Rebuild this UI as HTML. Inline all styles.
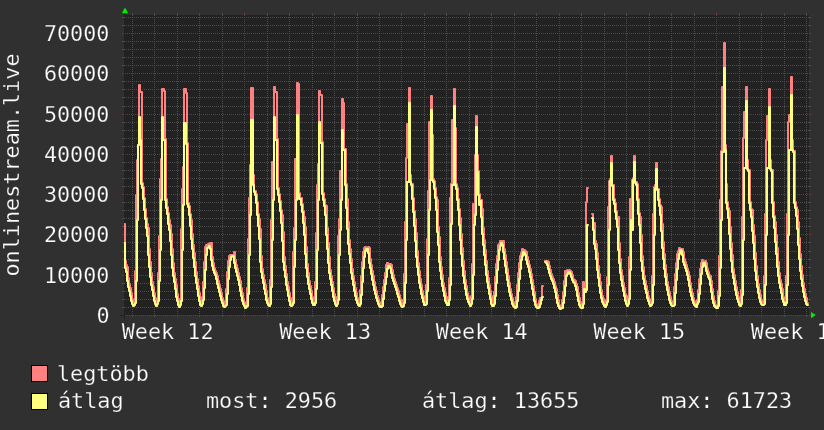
<!DOCTYPE html>
<html><head><meta charset="utf-8"><style>
html,body{margin:0;padding:0;background:#303030;}
svg{display:block}
.t{font-family:"DejaVu Sans Mono","Liberation Mono",monospace;font-size:21.8px;fill:#ffffff;stroke:#303030;stroke-width:0.25px;}
</style></head><body>
<svg width="824" height="430" viewBox="0 0 824 430" shape-rendering="crispEdges">
<rect x="0" y="0" width="824" height="430" fill="#303030"/><rect x="124" y="15" width="685" height="300" fill="#222222"/><line x1="132.5" y1="15" x2="132.5" y2="315" stroke="#4d4d4d" stroke-width="1" stroke-dasharray="1 1"/><rect x="132" y="13" width="1" height="2" fill="#4d4d4d"/><rect x="132" y="315" width="1" height="2" fill="#4d4d4d"/><line x1="154.5" y1="15" x2="154.5" y2="315" stroke="#4d4d4d" stroke-width="1" stroke-dasharray="1 1"/><rect x="154" y="13" width="1" height="2" fill="#4d4d4d"/><rect x="154" y="315" width="1" height="2" fill="#4d4d4d"/><line x1="177.5" y1="15" x2="177.5" y2="315" stroke="#4d4d4d" stroke-width="1" stroke-dasharray="1 1"/><rect x="177" y="13" width="1" height="2" fill="#4d4d4d"/><rect x="177" y="315" width="1" height="2" fill="#4d4d4d"/><line x1="199.5" y1="15" x2="199.5" y2="315" stroke="#4d4d4d" stroke-width="1" stroke-dasharray="1 1"/><rect x="199" y="13" width="1" height="2" fill="#4d4d4d"/><rect x="199" y="315" width="1" height="2" fill="#4d4d4d"/><line x1="222.5" y1="15" x2="222.5" y2="315" stroke="#4d4d4d" stroke-width="1" stroke-dasharray="1 1"/><rect x="222" y="13" width="1" height="2" fill="#4d4d4d"/><rect x="222" y="315" width="1" height="2" fill="#4d4d4d"/><line x1="267.5" y1="15" x2="267.5" y2="315" stroke="#4d4d4d" stroke-width="1" stroke-dasharray="1 1"/><rect x="267" y="13" width="1" height="2" fill="#4d4d4d"/><rect x="267" y="315" width="1" height="2" fill="#4d4d4d"/><line x1="289.5" y1="15" x2="289.5" y2="315" stroke="#4d4d4d" stroke-width="1" stroke-dasharray="1 1"/><rect x="289" y="13" width="1" height="2" fill="#4d4d4d"/><rect x="289" y="315" width="1" height="2" fill="#4d4d4d"/><line x1="312.5" y1="15" x2="312.5" y2="315" stroke="#4d4d4d" stroke-width="1" stroke-dasharray="1 1"/><rect x="312" y="13" width="1" height="2" fill="#4d4d4d"/><rect x="312" y="315" width="1" height="2" fill="#4d4d4d"/><line x1="334.5" y1="15" x2="334.5" y2="315" stroke="#4d4d4d" stroke-width="1" stroke-dasharray="1 1"/><rect x="334" y="13" width="1" height="2" fill="#4d4d4d"/><rect x="334" y="315" width="1" height="2" fill="#4d4d4d"/><line x1="357.5" y1="15" x2="357.5" y2="315" stroke="#4d4d4d" stroke-width="1" stroke-dasharray="1 1"/><rect x="357" y="13" width="1" height="2" fill="#4d4d4d"/><rect x="357" y="315" width="1" height="2" fill="#4d4d4d"/><line x1="379.5" y1="15" x2="379.5" y2="315" stroke="#4d4d4d" stroke-width="1" stroke-dasharray="1 1"/><rect x="379" y="13" width="1" height="2" fill="#4d4d4d"/><rect x="379" y="315" width="1" height="2" fill="#4d4d4d"/><line x1="424.5" y1="15" x2="424.5" y2="315" stroke="#4d4d4d" stroke-width="1" stroke-dasharray="1 1"/><rect x="424" y="13" width="1" height="2" fill="#4d4d4d"/><rect x="424" y="315" width="1" height="2" fill="#4d4d4d"/><line x1="446.5" y1="15" x2="446.5" y2="315" stroke="#4d4d4d" stroke-width="1" stroke-dasharray="1 1"/><rect x="446" y="13" width="1" height="2" fill="#4d4d4d"/><rect x="446" y="315" width="1" height="2" fill="#4d4d4d"/><line x1="469.5" y1="15" x2="469.5" y2="315" stroke="#4d4d4d" stroke-width="1" stroke-dasharray="1 1"/><rect x="469" y="13" width="1" height="2" fill="#4d4d4d"/><rect x="469" y="315" width="1" height="2" fill="#4d4d4d"/><line x1="491.5" y1="15" x2="491.5" y2="315" stroke="#4d4d4d" stroke-width="1" stroke-dasharray="1 1"/><rect x="491" y="13" width="1" height="2" fill="#4d4d4d"/><rect x="491" y="315" width="1" height="2" fill="#4d4d4d"/><line x1="514.5" y1="15" x2="514.5" y2="315" stroke="#4d4d4d" stroke-width="1" stroke-dasharray="1 1"/><rect x="514" y="13" width="1" height="2" fill="#4d4d4d"/><rect x="514" y="315" width="1" height="2" fill="#4d4d4d"/><line x1="536.5" y1="15" x2="536.5" y2="315" stroke="#4d4d4d" stroke-width="1" stroke-dasharray="1 1"/><rect x="536" y="13" width="1" height="2" fill="#4d4d4d"/><rect x="536" y="315" width="1" height="2" fill="#4d4d4d"/><line x1="581.5" y1="15" x2="581.5" y2="315" stroke="#4d4d4d" stroke-width="1" stroke-dasharray="1 1"/><rect x="581" y="13" width="1" height="2" fill="#4d4d4d"/><rect x="581" y="315" width="1" height="2" fill="#4d4d4d"/><line x1="604.5" y1="15" x2="604.5" y2="315" stroke="#4d4d4d" stroke-width="1" stroke-dasharray="1 1"/><rect x="604" y="13" width="1" height="2" fill="#4d4d4d"/><rect x="604" y="315" width="1" height="2" fill="#4d4d4d"/><line x1="626.5" y1="15" x2="626.5" y2="315" stroke="#4d4d4d" stroke-width="1" stroke-dasharray="1 1"/><rect x="626" y="13" width="1" height="2" fill="#4d4d4d"/><rect x="626" y="315" width="1" height="2" fill="#4d4d4d"/><line x1="649.5" y1="15" x2="649.5" y2="315" stroke="#4d4d4d" stroke-width="1" stroke-dasharray="1 1"/><rect x="649" y="13" width="1" height="2" fill="#4d4d4d"/><rect x="649" y="315" width="1" height="2" fill="#4d4d4d"/><line x1="671.5" y1="15" x2="671.5" y2="315" stroke="#4d4d4d" stroke-width="1" stroke-dasharray="1 1"/><rect x="671" y="13" width="1" height="2" fill="#4d4d4d"/><rect x="671" y="315" width="1" height="2" fill="#4d4d4d"/><line x1="694.5" y1="15" x2="694.5" y2="315" stroke="#4d4d4d" stroke-width="1" stroke-dasharray="1 1"/><rect x="694" y="13" width="1" height="2" fill="#4d4d4d"/><rect x="694" y="315" width="1" height="2" fill="#4d4d4d"/><line x1="739.5" y1="15" x2="739.5" y2="315" stroke="#4d4d4d" stroke-width="1" stroke-dasharray="1 1"/><rect x="739" y="13" width="1" height="2" fill="#4d4d4d"/><rect x="739" y="315" width="1" height="2" fill="#4d4d4d"/><line x1="761.5" y1="15" x2="761.5" y2="315" stroke="#4d4d4d" stroke-width="1" stroke-dasharray="1 1"/><rect x="761" y="13" width="1" height="2" fill="#4d4d4d"/><rect x="761" y="315" width="1" height="2" fill="#4d4d4d"/><line x1="784.5" y1="15" x2="784.5" y2="315" stroke="#4d4d4d" stroke-width="1" stroke-dasharray="1 1"/><rect x="784" y="13" width="1" height="2" fill="#4d4d4d"/><rect x="784" y="315" width="1" height="2" fill="#4d4d4d"/><line x1="806.5" y1="15" x2="806.5" y2="315" stroke="#4d4d4d" stroke-width="1" stroke-dasharray="1 1"/><rect x="806" y="13" width="1" height="2" fill="#4d4d4d"/><rect x="806" y="315" width="1" height="2" fill="#4d4d4d"/><line x1="124" y1="307.5" x2="809" y2="307.5" stroke="#4d4d4d" stroke-width="1" stroke-dasharray="1 1" stroke-dashoffset="0"/><rect x="122" y="307" width="2" height="1" fill="#4d4d4d"/><rect x="809" y="307" width="2" height="1" fill="#4d4d4d"/><line x1="124" y1="299.5" x2="809" y2="299.5" stroke="#4d4d4d" stroke-width="1" stroke-dasharray="1 1" stroke-dashoffset="0"/><rect x="122" y="299" width="2" height="1" fill="#4d4d4d"/><rect x="809" y="299" width="2" height="1" fill="#4d4d4d"/><line x1="124" y1="291.5" x2="809" y2="291.5" stroke="#4d4d4d" stroke-width="1" stroke-dasharray="1 1" stroke-dashoffset="0"/><rect x="122" y="291" width="2" height="1" fill="#4d4d4d"/><rect x="809" y="291" width="2" height="1" fill="#4d4d4d"/><line x1="124" y1="283.5" x2="809" y2="283.5" stroke="#4d4d4d" stroke-width="1" stroke-dasharray="1 1" stroke-dashoffset="0"/><rect x="122" y="283" width="2" height="1" fill="#4d4d4d"/><rect x="809" y="283" width="2" height="1" fill="#4d4d4d"/><line x1="124" y1="267.5" x2="809" y2="267.5" stroke="#4d4d4d" stroke-width="1" stroke-dasharray="1 1" stroke-dashoffset="0"/><rect x="122" y="267" width="2" height="1" fill="#4d4d4d"/><rect x="809" y="267" width="2" height="1" fill="#4d4d4d"/><line x1="124" y1="259.5" x2="809" y2="259.5" stroke="#4d4d4d" stroke-width="1" stroke-dasharray="1 1" stroke-dashoffset="0"/><rect x="122" y="259" width="2" height="1" fill="#4d4d4d"/><rect x="809" y="259" width="2" height="1" fill="#4d4d4d"/><line x1="124" y1="251.5" x2="809" y2="251.5" stroke="#4d4d4d" stroke-width="1" stroke-dasharray="1 1" stroke-dashoffset="0"/><rect x="122" y="251" width="2" height="1" fill="#4d4d4d"/><rect x="809" y="251" width="2" height="1" fill="#4d4d4d"/><line x1="124" y1="242.5" x2="809" y2="242.5" stroke="#4d4d4d" stroke-width="1" stroke-dasharray="1 1" stroke-dashoffset="0"/><rect x="122" y="242" width="2" height="1" fill="#4d4d4d"/><rect x="809" y="242" width="2" height="1" fill="#4d4d4d"/><line x1="124" y1="226.5" x2="809" y2="226.5" stroke="#4d4d4d" stroke-width="1" stroke-dasharray="1 1" stroke-dashoffset="0"/><rect x="122" y="226" width="2" height="1" fill="#4d4d4d"/><rect x="809" y="226" width="2" height="1" fill="#4d4d4d"/><line x1="124" y1="218.5" x2="809" y2="218.5" stroke="#4d4d4d" stroke-width="1" stroke-dasharray="1 1" stroke-dashoffset="0"/><rect x="122" y="218" width="2" height="1" fill="#4d4d4d"/><rect x="809" y="218" width="2" height="1" fill="#4d4d4d"/><line x1="124" y1="210.5" x2="809" y2="210.5" stroke="#4d4d4d" stroke-width="1" stroke-dasharray="1 1" stroke-dashoffset="0"/><rect x="122" y="210" width="2" height="1" fill="#4d4d4d"/><rect x="809" y="210" width="2" height="1" fill="#4d4d4d"/><line x1="124" y1="202.5" x2="809" y2="202.5" stroke="#4d4d4d" stroke-width="1" stroke-dasharray="1 1" stroke-dashoffset="0"/><rect x="122" y="202" width="2" height="1" fill="#4d4d4d"/><rect x="809" y="202" width="2" height="1" fill="#4d4d4d"/><line x1="124" y1="186.5" x2="809" y2="186.5" stroke="#4d4d4d" stroke-width="1" stroke-dasharray="1 1" stroke-dashoffset="0"/><rect x="122" y="186" width="2" height="1" fill="#4d4d4d"/><rect x="809" y="186" width="2" height="1" fill="#4d4d4d"/><line x1="124" y1="178.5" x2="809" y2="178.5" stroke="#4d4d4d" stroke-width="1" stroke-dasharray="1 1" stroke-dashoffset="0"/><rect x="122" y="178" width="2" height="1" fill="#4d4d4d"/><rect x="809" y="178" width="2" height="1" fill="#4d4d4d"/><line x1="124" y1="170.5" x2="809" y2="170.5" stroke="#4d4d4d" stroke-width="1" stroke-dasharray="1 1" stroke-dashoffset="0"/><rect x="122" y="170" width="2" height="1" fill="#4d4d4d"/><rect x="809" y="170" width="2" height="1" fill="#4d4d4d"/><line x1="124" y1="162.5" x2="809" y2="162.5" stroke="#4d4d4d" stroke-width="1" stroke-dasharray="1 1" stroke-dashoffset="0"/><rect x="122" y="162" width="2" height="1" fill="#4d4d4d"/><rect x="809" y="162" width="2" height="1" fill="#4d4d4d"/><line x1="124" y1="146.5" x2="809" y2="146.5" stroke="#4d4d4d" stroke-width="1" stroke-dasharray="1 1" stroke-dashoffset="0"/><rect x="122" y="146" width="2" height="1" fill="#4d4d4d"/><rect x="809" y="146" width="2" height="1" fill="#4d4d4d"/><line x1="124" y1="138.5" x2="809" y2="138.5" stroke="#4d4d4d" stroke-width="1" stroke-dasharray="1 1" stroke-dashoffset="0"/><rect x="122" y="138" width="2" height="1" fill="#4d4d4d"/><rect x="809" y="138" width="2" height="1" fill="#4d4d4d"/><line x1="124" y1="130.5" x2="809" y2="130.5" stroke="#4d4d4d" stroke-width="1" stroke-dasharray="1 1" stroke-dashoffset="0"/><rect x="122" y="130" width="2" height="1" fill="#4d4d4d"/><rect x="809" y="130" width="2" height="1" fill="#4d4d4d"/><line x1="124" y1="122.5" x2="809" y2="122.5" stroke="#4d4d4d" stroke-width="1" stroke-dasharray="1 1" stroke-dashoffset="0"/><rect x="122" y="122" width="2" height="1" fill="#4d4d4d"/><rect x="809" y="122" width="2" height="1" fill="#4d4d4d"/><line x1="124" y1="106.5" x2="809" y2="106.5" stroke="#4d4d4d" stroke-width="1" stroke-dasharray="1 1" stroke-dashoffset="0"/><rect x="122" y="106" width="2" height="1" fill="#4d4d4d"/><rect x="809" y="106" width="2" height="1" fill="#4d4d4d"/><line x1="124" y1="97.5" x2="809" y2="97.5" stroke="#4d4d4d" stroke-width="1" stroke-dasharray="1 1" stroke-dashoffset="0"/><rect x="122" y="97" width="2" height="1" fill="#4d4d4d"/><rect x="809" y="97" width="2" height="1" fill="#4d4d4d"/><line x1="124" y1="89.5" x2="809" y2="89.5" stroke="#4d4d4d" stroke-width="1" stroke-dasharray="1 1" stroke-dashoffset="0"/><rect x="122" y="89" width="2" height="1" fill="#4d4d4d"/><rect x="809" y="89" width="2" height="1" fill="#4d4d4d"/><line x1="124" y1="81.5" x2="809" y2="81.5" stroke="#4d4d4d" stroke-width="1" stroke-dasharray="1 1" stroke-dashoffset="0"/><rect x="122" y="81" width="2" height="1" fill="#4d4d4d"/><rect x="809" y="81" width="2" height="1" fill="#4d4d4d"/><line x1="124" y1="65.5" x2="809" y2="65.5" stroke="#4d4d4d" stroke-width="1" stroke-dasharray="1 1" stroke-dashoffset="0"/><rect x="122" y="65" width="2" height="1" fill="#4d4d4d"/><rect x="809" y="65" width="2" height="1" fill="#4d4d4d"/><line x1="124" y1="57.5" x2="809" y2="57.5" stroke="#4d4d4d" stroke-width="1" stroke-dasharray="1 1" stroke-dashoffset="0"/><rect x="122" y="57" width="2" height="1" fill="#4d4d4d"/><rect x="809" y="57" width="2" height="1" fill="#4d4d4d"/><line x1="124" y1="49.5" x2="809" y2="49.5" stroke="#4d4d4d" stroke-width="1" stroke-dasharray="1 1" stroke-dashoffset="0"/><rect x="122" y="49" width="2" height="1" fill="#4d4d4d"/><rect x="809" y="49" width="2" height="1" fill="#4d4d4d"/><line x1="124" y1="41.5" x2="809" y2="41.5" stroke="#4d4d4d" stroke-width="1" stroke-dasharray="1 1" stroke-dashoffset="0"/><rect x="122" y="41" width="2" height="1" fill="#4d4d4d"/><rect x="809" y="41" width="2" height="1" fill="#4d4d4d"/><line x1="124" y1="25.5" x2="809" y2="25.5" stroke="#4d4d4d" stroke-width="1" stroke-dasharray="1 1" stroke-dashoffset="0"/><rect x="122" y="25" width="2" height="1" fill="#4d4d4d"/><rect x="809" y="25" width="2" height="1" fill="#4d4d4d"/><line x1="124" y1="17.5" x2="809" y2="17.5" stroke="#4d4d4d" stroke-width="1" stroke-dasharray="1 1" stroke-dashoffset="0"/><rect x="122" y="17" width="2" height="1" fill="#4d4d4d"/><rect x="809" y="17" width="2" height="1" fill="#4d4d4d"/><line x1="244.5" y1="15" x2="244.5" y2="315" stroke="#733434" stroke-width="1" stroke-dasharray="1 1"/><rect x="244" y="13" width="1" height="2" fill="#733434"/><rect x="244" y="315" width="1" height="2" fill="#733434"/><line x1="401.5" y1="15" x2="401.5" y2="315" stroke="#733434" stroke-width="1" stroke-dasharray="1 1"/><rect x="401" y="13" width="1" height="2" fill="#733434"/><rect x="401" y="315" width="1" height="2" fill="#733434"/><line x1="559.5" y1="15" x2="559.5" y2="315" stroke="#733434" stroke-width="1" stroke-dasharray="1 1"/><rect x="559" y="13" width="1" height="2" fill="#733434"/><rect x="559" y="315" width="1" height="2" fill="#733434"/><line x1="716.5" y1="15" x2="716.5" y2="315" stroke="#733434" stroke-width="1" stroke-dasharray="1 1"/><rect x="716" y="13" width="1" height="2" fill="#733434"/><rect x="716" y="315" width="1" height="2" fill="#733434"/><line x1="124" y1="315.5" x2="809" y2="315.5" stroke="#733434" stroke-width="1" stroke-dasharray="1 1" stroke-dashoffset="1"/><rect x="122" y="315" width="2" height="1" fill="#733434"/><rect x="809" y="315" width="2" height="1" fill="#733434"/><line x1="124" y1="275.5" x2="809" y2="275.5" stroke="#733434" stroke-width="1" stroke-dasharray="1 1" stroke-dashoffset="1"/><rect x="122" y="275" width="2" height="1" fill="#733434"/><rect x="809" y="275" width="2" height="1" fill="#733434"/><line x1="124" y1="234.5" x2="809" y2="234.5" stroke="#733434" stroke-width="1" stroke-dasharray="1 1" stroke-dashoffset="1"/><rect x="122" y="234" width="2" height="1" fill="#733434"/><rect x="809" y="234" width="2" height="1" fill="#733434"/><line x1="124" y1="194.5" x2="809" y2="194.5" stroke="#733434" stroke-width="1" stroke-dasharray="1 1" stroke-dashoffset="1"/><rect x="122" y="194" width="2" height="1" fill="#733434"/><rect x="809" y="194" width="2" height="1" fill="#733434"/><line x1="124" y1="154.5" x2="809" y2="154.5" stroke="#733434" stroke-width="1" stroke-dasharray="1 1" stroke-dashoffset="1"/><rect x="122" y="154" width="2" height="1" fill="#733434"/><rect x="809" y="154" width="2" height="1" fill="#733434"/><line x1="124" y1="114.5" x2="809" y2="114.5" stroke="#733434" stroke-width="1" stroke-dasharray="1 1" stroke-dashoffset="1"/><rect x="122" y="114" width="2" height="1" fill="#733434"/><rect x="809" y="114" width="2" height="1" fill="#733434"/><line x1="124" y1="73.5" x2="809" y2="73.5" stroke="#733434" stroke-width="1" stroke-dasharray="1 1" stroke-dashoffset="1"/><rect x="122" y="73" width="2" height="1" fill="#733434"/><rect x="809" y="73" width="2" height="1" fill="#733434"/><line x1="124" y1="33.5" x2="809" y2="33.5" stroke="#733434" stroke-width="1" stroke-dasharray="1 1" stroke-dashoffset="1"/><rect x="122" y="33" width="2" height="1" fill="#733434"/><rect x="809" y="33" width="2" height="1" fill="#733434"/><defs><clipPath id="plotclip"><rect x="124" y="14" width="685" height="302"/></clipPath></defs><g clip-path="url(#plotclip)"><path d="M124,224H125V261H126V265H127V267H128V278H129V284H130V288H131V293H132V299H133V302H134H135V271H136V195H137V160H138V145H139V85H140V92H141H142V183H143V187H144V198H145V209H146V218H147V224H148V228H149V249H150V262H151V273H152V282H153V287H154V293H155V298H156V302H157V299H158V273H159V236H160V179H161V159H162V89H163H164V91H165V139H166V199H167V207H168V213H169V220H170V225H171V234H172V249H173V263H174V273H175V279H176V285H177V294H178V299H179V303H180V299H181V229H182V189H183V167H184V89H185H186V93H187V143H188V203H189V206H190V214H191V220H192V234H193V245H194V253H195V262H196V272H197V279H198V286H199V293H200V298H201V302H202V297H203V282H204V262H205V247H206V245H207H208V244H209V245H210V243H211H212V257H213V263H214V268H215V271H216V273H217V276H218V281H219V285H220V289H221V293H222V298H223V301H224V304H225V303H226V289H227V272H228V261H229V256H230V255H231H232H233H234V252H235V260H236V265H237V269H238V273H239V277H240V281H241V288H242V293H243V299H244V302H245V305H246H247V288H248V239H249V198H250V165H251V88H252H253V175H254V191H255H256V194H257V202H258V214H259V219H260V229H261V256H262V269H263V275H264V280H265V285H266V291H267V298H268V302H269H270V280H271V220H272V162H273H274V87H275V92H276H277V139H278V188H279V194H280V201H281V210H282V215H283V232H284V257H285V266H286V274H287V282H288V287H289V293H290V298H291V303H292V302H293V252H294V228H295V159H296H297V83H298V84H299V193H300V198H301H302V204H303V211H304V217H305V227H306V247H307V264H308V273H309V281H310V286H311V291H312V297H313V301H314V302H315V282H316V233H317V185H318V164H319V91H320V95H321H322V142H323V193H324V199H325V205H326V206H327V228H328V243H329V257H330V270H331V276H332V282H333V288H334V294H335V299H336V302H337V297H338V236H339V219H340V171H341H342V99H343V103H344V149H345H346V184H347V199H348V222H349V240H350V249H351V259H352V269H353V276H354V282H355V288H356V293H357V298H358V301H359V302H360V290H361V276H362V262H363V252H364V248H365V247H366V248H367H368V247H369V248H370V259H371V265H372V271H373V276H374V282H375V287H376V291H377V296H378V299H379V302H380V305H381H382V295H383V287H384V280H385V273H386V265H387V263H388V265H389V264H390H391V265H392V270H393V275H394V279H395V282H396V285H397V288H398V291H399V295H400V299H401V302H402V304H403V300H404V274H405V222H406V158H407V124H408H409V88H410V175H411V184H412H413V198H414V211H415V219H416V233H417V251H418V263H419V271H420V279H421V285H422V291H423V296H424V301H425V302H426V285H427V239H428V191H429V122H430H431V96H432V135H433V179H434V181H435V188H436V197H437V200H438V227H439V237H440V257H441V267H442V275H443V283H444V288H445V293H446V298H447V302H448V297H449V278H450V198H451V184H452V120H453H454V89H455V128H456V184H457V188H458V199H459V209H460V218H461V234H462V248H463V261H464V271H465V280H466V286H467V293H468V297H469V301H470V302H471V296H472V264H473V204H474V214H475V155H476V116H477V155H478V171H479V194H480V200H481H482V209H483V228H484V240H485V250H486V261H487V271H488V278H489V285H490V291H491V296H492V302H493H494V292H495V277H496V264H497V256H498V245H499V244H500V241H501V242H502V241H503H504V249H505V255H506V262H507V269H508V276H509V283H510V289H511V294H512V298H513V302H514V304H515V305H516V297H517V285H518V273H519V263H520V256H521V253H522V249H523V251H524V250H525V251H526V252H527V257H528V261H529V265H530V269H531V274H532V280H533V286H534V292H535V299H536V304H537V305H538V306H539V301H540V298H541V299H542V286H543" fill="none" stroke="#ff8080" stroke-width="2" stroke-linejoin="round" stroke-linecap="round" shape-rendering="geometricPrecision"/><path d="M545,261H546H547H548V262H549V266H550V270H551V274H552V277H553V279H554V282H555V286H556V289H557V295H558V300H559V305H560V306H561H562V300H563V292H564V281H565V271H566V272H567V270H568V271H569V270H570V271H571V272H572V275H573V279H574V280H575V281H576V284H577V287H578V293H579V298H580V303H581V305H582V302H583V282H584V288H585V287H586V202H587V188H588" fill="none" stroke="#ff8080" stroke-width="2" stroke-linejoin="round" stroke-linecap="round" shape-rendering="geometricPrecision"/><path d="M592,214H593V229H594V223H595V241H596V244H597V253H598V266H599V274H600V282H601V290H602V296H603V299H604V303H605V304H606V300H607V277H608V207H609V181H610V179H611V156H612V185H613H614V199H615V203H616V211H617V218H618V217H619V243H620V259H621V270H622V276H623V283H624V288H625V294H626V299H627V302H628V296H629V257H630V199H631V219H632V180H633V178H634V156H635V182H636H637V184H638V199H639V213H640V217H641V235H642V256H643V267H644V276H645V281H646V286H647V291H648V296H649V299H650V302H651H652V276H653V214H654V187H655V185H656V163H657V189H658H659V199H660V205H661V207H662V224H663V242H664V254H665V265H666V274H667V282H668V287H669V292H670V297H671V301H672V303H673H674V287H675V274H676V263H677V254H678V251H679V248H680V249H681H682H683V252H684V259H685V262H686V265H687V269H688V272H689V276H690V283H691V289H692V293H693V298H694V301H695V304H696V303H697V300H698V290H699V279H700V269H701V263H702V260H703V262H704H705V261H706V263H707V269H708V272H709V275H710V276H711V281H712V289H713V296H714V301H715V305H716V306H717V305H718V291H719V256H720V200H721V151H722V87H723H724V43H725V145H726V184H727V202H728V208H729V211H730V227H731V243H732V255H733V269H734V275H735V281H736V287H737V292H738V297H739V300H740V303H741V290H742V217H743V138H744V112H745H746V87H747V160H748V170H749H750V202H751V209H752V210H753V225H754V236H755V253H756V266H757V276H758V284H759V290H760V295H761V300H762V302H763H764V276H765V214H766V140H767V116H768H769V89H770V160H771V170H772H773V202H774V216H775V222H776V235H777V248H778V262H779V273H780V280H781V284H782V289H783V297H784V300H785V302H786V276H787V214H788V122H789V115H790H791V77H792V140H793V151H794H795V202H796V207H797V210H798V222H799V238H800V254H801V266H802V275H803V283H804V289H805V294H806V298H807V303H808" fill="none" stroke="#ff8080" stroke-width="2" stroke-linejoin="round" stroke-linecap="round" shape-rendering="geometricPrecision"/><path d="M124,243H125V268H126V272H127V281H128V287H129V291H130V296H131V301H132V304H133V306H134V305H135V303H136V281H137V220H138V145H139V117H140V140H141V184H142V188H143V199H144V210H145V219H146V228H147V236H148V255H149V267H150V277H151V285H152V290H153V296H154V301H155V304H156V306H157V304H158V301H159V281H160V250H161V200H162V117H163V140H164H165V200H166V208H167V214H168V224H169V230H170V241H171V255H172V268H173V276H174V282H175V289H176V297H177V301H178V305H179V307H180V305H181V301H182V250H183V205H184V123H185H186V144H187V204H188V207H189V215H190V226H191V239H192V249H193V258H194V267H195V276H196V283H197V289H198V296H199V301H200V305H201V306H202V304H203V300H204V288H205V270H206V255H207V248H208V247H209V246H210V249H211V260H212V266H213V270H214V273H215V275H216V279H217V284H218V288H219V292H220V296H221V300H222V303H223V306H224V307H225V306H226V305H227V294H228V279H229V267H230V260H231V257H232V256H233H234V263H235V268H236V272H237V276H238V280H239V285H240V291H241V296H242V301H243V304H244V306H245V308H246V307H247V306H248V294H249V255H250V215H251V120H252H253V185H254V192H255V195H256V203H257V215H258V226H259V239H260V262H261V272H262V278H263V283H264V289H265V294H266V300H267V303H268V305H269V306H270V304H271V287H272V240H273V200H274V117H275V140H276H277V189H278V195H279V202H280V211H281V223H282V241H283V262H284V270H285V277H286V285H287V290H288V296H289V301H290V305H291V306H292V305H293V303H294V267H295V240H296V200H297V115H298V194H299V199H300H301V205H302V212H303V223H304V235H305V254H306V268H307V277H308V284H309V289H310V294H311V299H312V303H313V305H314H315V303H316V289H317V250H318V200H319V122H320V143H321H322V194H323V200H324V206H325V215H326V235H327V249H328V263H329V273H330V279H331V285H332V291H333V297H334V301H335V304H336V306H337V304H338V300H339V255H340V230H341V200H342V130H343V150H344H345V185H346V208H347V229H348V244H349V254H350V263H351V273H352V279H353V285H354V291H355V296H356V300H357V303H358V305H359V306H360V304H361V295H362V282H363V268H364V257H365V251H366V249H367H368V253H369V263H370V268H371V274H372V280H373V285H374V290H375V294H376V298H377V301H378V304H379V306H380V307H381H382V306H383V299H384V291H385V284H386V277H387V269H388V266H389H390V268H391V273H392V278H393V281H394V284H395V287H396V290H397V294H398V297H399V301H400V304H401V306H402V307H403V306H404V303H405V283H406V240H407V182H408H409V103H410V182H411V185H412V199H413V212H414V226H415V241H416V257H417V267H418V275H419V283H420V288H421V294H422V298H423V302H424V305H425H426V304H427V291H428V255H429V210H430V180H431V110H432V180H433V182H434V189H435V198H436V210H437V232H438V245H439V262H440V271H441V279H442V286H443V291H444V296H445V301H446V303H447V305H448H449V300H450V285H451V224H452V185H453H454V106H455V185H456V189H457V200H458V210H459V225H460V240H461V254H462V266H463V276H464V283H465V289H466V295H467V299H468V302H469V304H470V306H471V304H472V299H473V275H474V225H475V215H476V127H477V172H478V195H479V205H480V201H481V217H482V234H483V245H484V255H485V265H486V275H487V282H488V288H489V294H490V299H491V304H492V306H493H494V304H495V296H496V283H497V270H498V260H499V250H500V246H501V243H502V245H503V252H504V259H505V266H506V273H507V280H508V286H509V292H510V296H511V300H512V304H513V306H514V307H515V308H516V307H517V301H518V291H519V279H520V269H521V260H522V256H523V252H524V253H525V255H526V260H527V264H528V267H529V272H530V277H531V283H532V289H533V295H534V301H535V305H536V307H537V308H538H539V307H540V304H541V300H542V297H543" fill="none" stroke="#ffff80" stroke-width="2" stroke-linejoin="round" stroke-linecap="round" shape-rendering="geometricPrecision"/><path d="M545,262H546V263H547V265H548V269H549V273H550V276H551V279H552V281H553V284H554V288H555V292H556V298H557V303H558V306H559V308H560V309H561V308H562H563V303H564V296H565V286H566V276H567V274H568V272H569H570V274H571V277H572V280H573V282H574V283H575V286H576V290H577V296H578V301H579V305H580V307H581V308H582H583V304H584V289H585V292H586V290H587V225H588" fill="none" stroke="#ffff80" stroke-width="2" stroke-linejoin="round" stroke-linecap="round" shape-rendering="geometricPrecision"/><path d="M592,218H593V230H594V244H595V249H596V259H597V270H598V278H599V286H600V293H601V298H602V302H603V304H604V306H605V307H606V305H607V302H608V285H609V230H610V181H611V163H612V186H613V200H614V204H615V212H616V219H617V227H618V250H619V263H620V273H621V280H622V286H623V291H624V296H625V301H626V304H627V306H628V304H629V299H630V270H631V220H632V230H633V180H634V162H635V183H636V185H637V200H638V214H639V225H640V243H641V261H642V271H643V279H644V284H645V289H646V293H647V298H648V301H649V304H650V306H651V305H652V303H653V285H654V235H655V188H656V169H657V190H658V200H659V206H660V215H661V231H662V248H663V259H664V269H665V277H666V285H667V290H668V295H669V300H670V303H671V305H672V306H673H674V305H675V293H676V280H677V269H678V259H679V254H680V250H681V251H682V255H683V262H684V265H685V268H686V271H687V275H688V280H689V286H690V292H691V296H692V300H693V303H694V305H695V306H696V307H697V304H698V302H699V294H700V284H701V274H702V267H703V263H704H705V266H706V271H707V274H708V277H709V279H710V285H711V292H712V299H713V303H714V306H715V307H716V308H717H718V306H719V296H720V268H721V220H722V152H723H724V68H725V150H726V203H727V209H728V218H729V234H730V249H731V261H732V272H733V278H734V284H735V290H736V295H737V299H738V302H739V305H740V306H741V304H742V295H743V240H744V168H745H746V101H747V169H748V171H749V203H750V210H751V217H752V231H753V243H754V259H755V271H756V280H757V287H758V293H759V298H760V302H761V304H762V305H763H764V304H765V285H766V235H767V168H768H769V107H770V169H771V171H772V203H773V217H774V228H775V242H776V254H777V267H778V276H779V283H780V288H781V293H782V299H783V302H784V305H785H786V303H787V285H788V235H789V150H790H791V95H792V150H793V152H794V203H795V208H796V216H797V229H798V245H799V259H800V271H801V279H802V286H803V292H804V297H805V301H806V304H807V305H808" fill="none" stroke="#ffff80" stroke-width="2" stroke-linejoin="round" stroke-linecap="round" shape-rendering="geometricPrecision"/></g><rect x="120" y="315" width="4" height="1" fill="#1f1f1f"/><rect x="124" y="315" width="1" height="4" fill="#1f1f1f"/><rect x="124" y="11" width="1" height="4" fill="#1f1f1f"/><polygon points="811,312 811,318.3 815.8,315.1" fill="#00ee00" shape-rendering="geometricPrecision"/><polygon points="121.9,13.2 128.1,13.2 125.5,8.2 124.5,8.2" fill="#00ee00" shape-rendering="geometricPrecision"/><text x="109.5" y="315" text-anchor="end" dominant-baseline="central" class="t">0</text><text x="109.5" y="275" text-anchor="end" dominant-baseline="central" class="t">10000</text><text x="109.5" y="234" text-anchor="end" dominant-baseline="central" class="t">20000</text><text x="109.5" y="194" text-anchor="end" dominant-baseline="central" class="t">30000</text><text x="109.5" y="154" text-anchor="end" dominant-baseline="central" class="t">40000</text><text x="109.5" y="114" text-anchor="end" dominant-baseline="central" class="t">50000</text><text x="109.5" y="73" text-anchor="end" dominant-baseline="central" class="t">60000</text><text x="109.5" y="33" text-anchor="end" dominant-baseline="central" class="t">70000</text><text x="167.7" y="339" text-anchor="middle" class="t">Week 12</text><text x="325.2" y="339" text-anchor="middle" class="t">Week 13</text><text x="481.75" y="339" text-anchor="middle" class="t">Week 14</text><text x="639.25" y="339" text-anchor="middle" class="t">Week 15</text><text x="796.75" y="339" text-anchor="middle" class="t">Week 16</text><text transform="translate(19,165) rotate(-90)" text-anchor="middle" class="t">onlinestream.live</text><rect x="31.5" y="365.5" width="16" height="16" fill="#ff8080" stroke="#000000" stroke-width="1"/><rect x="31.5" y="393.5" width="16" height="16" fill="#ffff80" stroke="#000000" stroke-width="1"/><text x="57" y="381" class="t">legtöbb</text><text x="58" y="408" class="t">átlag</text><text x="206" y="408" class="t">most: 2956</text><text x="422" y="408" class="t">átlag: 13655</text><text x="661" y="408" class="t">max: 61723</text>
</svg></body></html>
